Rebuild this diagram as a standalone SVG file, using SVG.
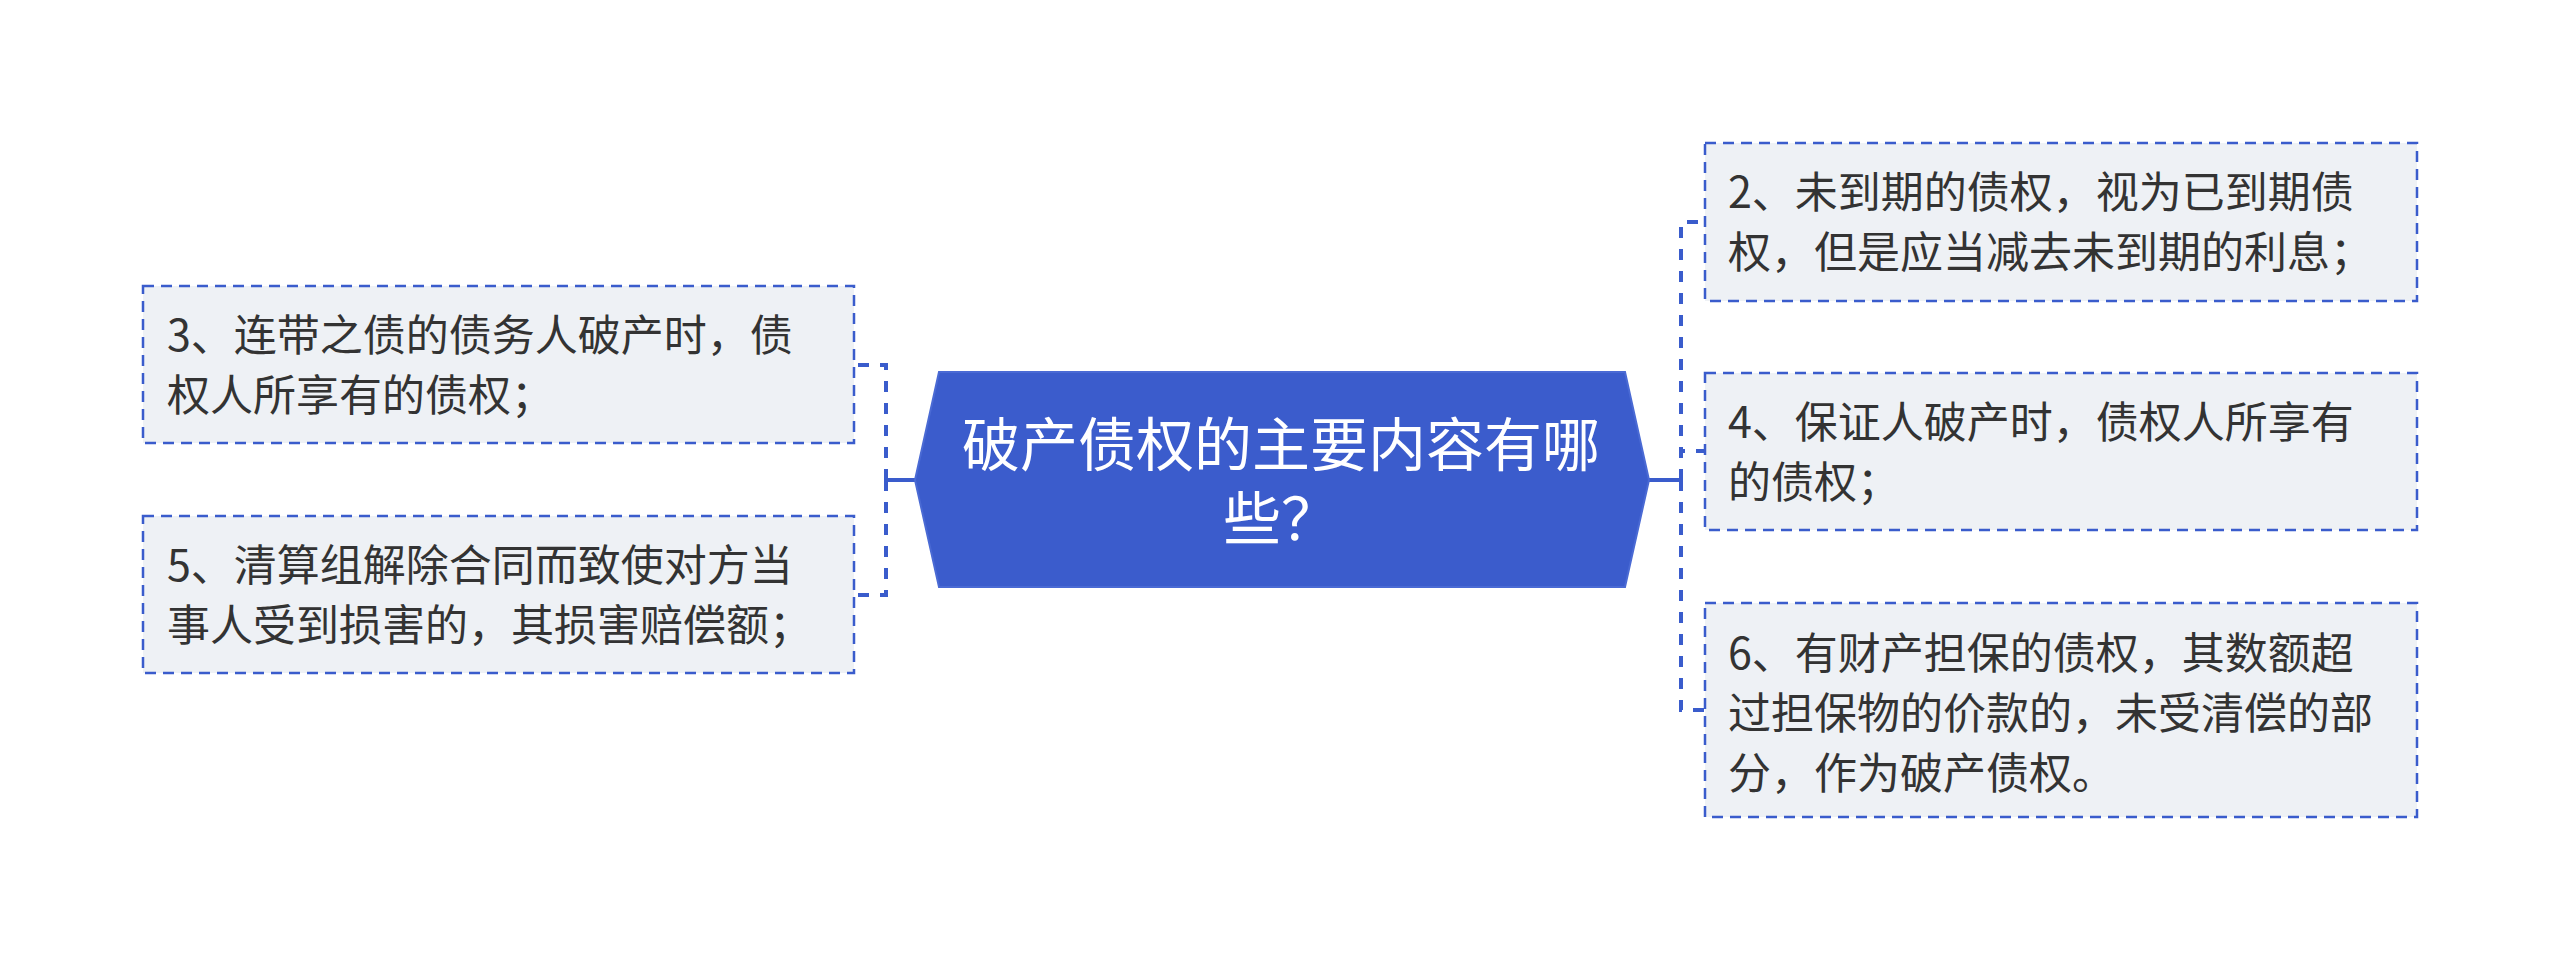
<svg xmlns="http://www.w3.org/2000/svg" width="2560" height="960" viewBox="0 0 2560 960">
  <style>
    .box { fill: #eef1f5; stroke: #3a5ccc; stroke-width: 2.5; stroke-dasharray: 11 7; }
    .txt { font-family: "Noto Sans CJK SC", "Noto Sans", sans-serif; font-size: 43px; fill: #333333; }
    .ctxt { font-family: "Noto Sans CJK SC", "Noto Sans", sans-serif; font-size: 58px; fill: #ffffff; text-anchor: middle; }
    .dash { fill: none; stroke: #3a5ccc; stroke-width: 4; stroke-dasharray: 11 11; }
    .solid { fill: none; stroke: #3a5ccc; stroke-width: 4; }
  </style>
  <rect width="2560" height="960" fill="#ffffff"/>

  <g id="connectors">
    <path class="solid" d="M915,480 H886 M886,469 V491"/>
    <path class="dash" d="M886,480 V365 H854"/>
    <path class="dash" d="M886,480 V595 H854"/>
    <path class="solid" d="M1649,480 H1681 M1681,469 V491"/>
    <path class="dash" d="M1681,480 V222 H1705"/>
    <path class="dash" d="M1681,480 V451 H1705"/>
    <path class="dash" d="M1681,480 V710 H1705"/>
  </g>

  <g id="center">
    <polygon points="939,372 1625,372 1649,480 1625,587 939,587 915,480" fill="#3b5ccc" stroke="#4a6ad4" stroke-width="2"/>
    <text class="ctxt" x="1281" y="466">破产债权的主要内容有哪</text>
    <text class="ctxt" x="1281" y="540">些？</text>
  </g>

  <g id="node3">
    <rect class="box" x="143" y="286" width="711" height="157"/>
    <text class="txt" x="167" y="351">3、连带之债的债务人破产时，债</text>
    <text class="txt" x="167" y="411">权人所享有的债权；</text>
  </g>

  <g id="node5">
    <rect class="box" x="143" y="516" width="711" height="157"/>
    <text class="txt" x="167" y="581">5、清算组解除合同而致使对方当</text>
    <text class="txt" x="167" y="641">事人受到损害的，其损害赔偿额；</text>
  </g>

  <g id="node2">
    <rect class="box" x="1705" y="143" width="712" height="158"/>
    <text class="txt" x="1728" y="208">2、未到期的债权，视为已到期债</text>
    <text class="txt" x="1728" y="268">权，但是应当减去未到期的利息；</text>
  </g>

  <g id="node4">
    <rect class="box" x="1705" y="373" width="712" height="157"/>
    <text class="txt" x="1728" y="438">4、保证人破产时，债权人所享有</text>
    <text class="txt" x="1728" y="498">的债权；</text>
  </g>

  <g id="node6">
    <rect class="box" x="1705" y="603" width="712" height="214"/>
    <text class="txt" x="1728" y="669">6、有财产担保的债权，其数额超</text>
    <text class="txt" x="1728" y="729">过担保物的价款的，未受清偿的部</text>
    <text class="txt" x="1728" y="789">分，作为破产债权。</text>
  </g>
</svg>
